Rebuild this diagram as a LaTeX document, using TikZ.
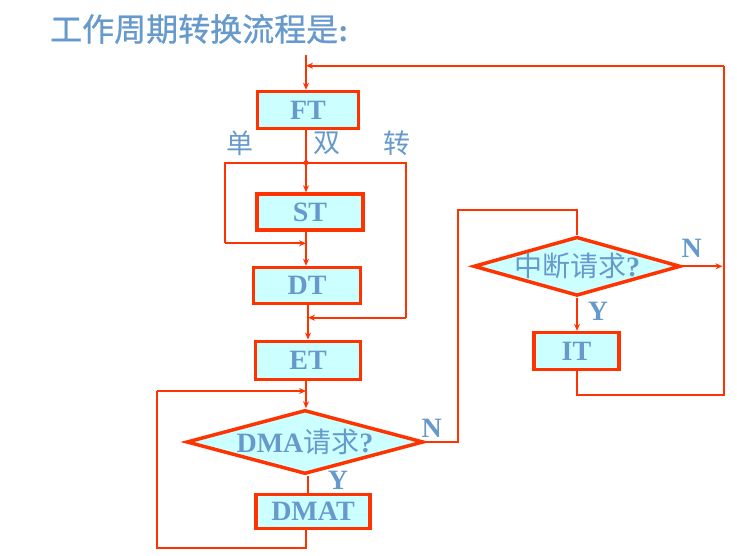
\documentclass[tikz,border=0pt]{standalone}
\usepackage{fontspec}
\setmainfont{Liberation Serif}
\newfontfamily\cjk{Noto Sans CJK SC}
\newfontfamily\cjkt[FakeBold=0.8]{Noto Sans CJK SC}
\usetikzlibrary{shapes.geometric,arrows.meta}
\definecolor{lineRed}{RGB}{255,51,0}
\definecolor{txtBlue}{RGB}{102,153,204}
\definecolor{boxFill}{RGB}{204,255,255}
\tikzset{
  box/.style={draw=lineRed,line width=3.5pt,fill=boxFill,rectangle,inner sep=0pt,
    text=txtBlue,font=\fontsize{28}{30}\selectfont\bfseries},
  dec/.style={draw=lineRed,line width=3.5pt,fill=boxFill,diamond,inner sep=0pt,
    text=txtBlue,font=\fontsize{28}{30}\selectfont\bfseries},
  conn/.style={draw=lineRed,line width=2pt},
  arr/.style={conn,-{Stealth[length=7pt,width=6pt]}},
  lbl/.style={text=txtBlue,inner sep=0pt,font=\fontsize{28}{30}\selectfont\bfseries},
  cjklbl/.style={text=txtBlue,inner sep=0pt,font=\fontsize{27}{29}\selectfont\cjk},
}
\begin{document}
\begin{tikzpicture}[x=1pt,y=-1pt]
\useasboundingbox (0,0) rectangle (737,556);
% title
\node[anchor=west,text=txtBlue,inner sep=0pt,font=\fontsize{32}{34}\selectfont] (title) at (50,29) {{\cjkt 工作周期转换流程是}\textbf{:}};
% boxes
\node[box,minimum width=101pt,minimum height=37pt] (FT) at (308,110) {FT};
\node[box,minimum width=106pt,minimum height=36pt] (ST) at (310,212) {ST};
\node[box,minimum width=107pt,minimum height=36pt] (DT) at (307,285.5) {DT};
\node[box,minimum width=105pt,minimum height=38pt] (ET) at (308,360.3) {ET};
\node[dec,aspect=3.7,minimum width=237pt,minimum height=64pt] (DMA) at (305,442) {\makebox[0pt][c]{DMA{\cjk\mdseries 请求}?}};
\node[box,minimum width=114pt,minimum height=34pt] (DMAT) at (313,511.7) {DMAT};
\node[dec,aspect=3.5,minimum width=207pt,minimum height=59pt] (INT) at (577,266.3) {\makebox[0pt][c]{{\cjk\mdseries 中断请求}?}};
\node[box,minimum width=85pt,minimum height=37pt] (IT) at (576.5,351) {IT};
% coordinates
\coordinate (top) at (306,55);
\coordinate (J) at (306,162.7);
\coordinate (jl) at (225,162.7);
\coordinate (jr) at (405.7,162.7);
\coordinate (sl) at (225,243.3);
\coordinate (sr) at (405.7,317.7);
\coordinate (loopL) at (156.7,391);
\coordinate (loopB) at (156.7,548.3);
\coordinate (nx) at (458.3,210);
\coordinate (rr) at (724,395);
\coordinate (rt) at (724,65.7);
% connectors
\draw[arr] (top) -- (top |- FT.north);
\draw[conn] (IT.south) -- (IT.south |- rr) -- (rr) -- (rt);
\draw[arr] (rt) -- (top |- rt);
\draw[conn] (J |- FT.south) -- (J);
\fill[lineRed] (J) circle (2.5pt);
\draw[arr] (J) -- (J |- ST.north);
\draw[conn] (J) -- (jl) -- (sl);
\draw[arr] (sl) -- (J |- sl);
\draw[conn] (J) -- (jr) -- (sr);
\draw[arr] (sr) -- (308,317.7);
\draw[arr] (J |- ST.south) -- (J |- DT.north);
\draw[arr] (308,0 |- DT.south) -- (308,0 |- ET.north);
\draw[arr] (J |- ET.south) -- (J |- DMA.north);
\draw[arr] (loopL) -- (J |- loopL);
\draw[conn] (J |- DMAT.south) -- (J |- loopB) -- (loopB) -- (loopL);
\draw[conn] (308,0 |- DMA.south) -- (308,0 |- DMAT.north);
\draw[conn] (DMA.east) -- (DMA.east -| nx) -- (nx) -- (nx -| INT.north) -- (INT.north);
\draw[arr] (INT.east) -- (722.5,0 |- INT.east);
\draw[arr] (INT.south) -- (INT.south |- IT.north);
% labels
\node[cjklbl] (l1) at (240,143) {单};
\node[cjklbl] (l2) at (327,143) {双};
\node[cjklbl] (l3) at (397,143) {转};
\node[lbl] (n1) at (431.7,428) {N};
\node[lbl] (y1) at (338,480) {Y};
\node[lbl] (n2) at (691.7,248) {N};
\node[lbl] (y2) at (598,311) {Y};
\end{tikzpicture}
\end{document}
